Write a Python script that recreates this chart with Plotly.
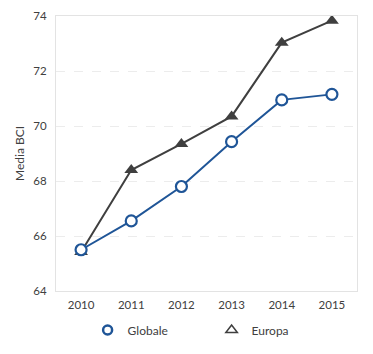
import plotly.graph_objects as go

years = ["2010", "2011", "2012", "2013", "2014", "2015"]
globale = [65.5, 66.55, 67.8, 69.43, 70.95, 71.15]
europa = [65.42, 68.4, 69.35, 70.35, 73.03, 73.83]
y_ticks = [64, 66, 68, 70, 72, 74]

blue = "#1f5597"
gray = "#3f3f3f"
font = "Lato"

fig = go.Figure()
fig.add_trace(go.Scatter(
    x=years, y=europa, mode="lines+markers", name="Europa", showlegend=False,
    line=dict(color=gray, width=2),
    marker=dict(symbol="triangle-up", size=12, color=gray),
))
fig.add_trace(go.Scatter(
    x=years, y=globale, mode="lines+markers", name="Globale", showlegend=False,
    line=dict(color=blue, width=2),
    marker=dict(symbol="circle", size=11, color="white", line=dict(color=blue, width=2.2)),
))
# legend-only entries (markers only)
fig.add_trace(go.Scatter(
    x=[None], y=[None], mode="markers", name="Globale",
    marker=dict(symbol="circle", size=9, color="white", line=dict(color=blue, width=2.5)),
))
fig.add_trace(go.Scatter(
    x=[None], y=[None], mode="markers", name="Europa",
    marker=dict(symbol="triangle-up-open", size=10, color=gray, line=dict(color=gray, width=1.5)),
))

fig.update_layout(
    width=373, height=354,
    margin=dict(l=56, r=16, t=16, b=63, autoexpand=False),
    paper_bgcolor="white", plot_bgcolor="white",
    font=dict(family=font, size=11.5, color="#404040"),
    legend=dict(orientation="h", x=0.105, xanchor="left", y=-0.142, yanchor="middle",
                entrywidth=79, entrywidthmode="pixels", itemwidth=30,
                font=dict(family=font, size=12, color="#404040")),
)
fig.update_xaxes(
    type="category", range=[-0.5, 5.5], showgrid=False,
    showline=True, linecolor="#e3e3e3", linewidth=1, mirror=True,
    ticks="", ticklabelstandoff=3,
)
fig.update_yaxes(
    range=[64, 74], tickvals=y_ticks, showgrid=True,
    gridcolor="#ececec", griddash="dash", gridwidth=1,
    showline=True, linecolor="#e3e3e3", linewidth=1, mirror=True,
    zeroline=False, ticks="", ticklabelstandoff=6,
    title=dict(text="Media BCI", standoff=6, font=dict(family=font, size=12, color="#404040")),
)

fig.write_html("out.html")
